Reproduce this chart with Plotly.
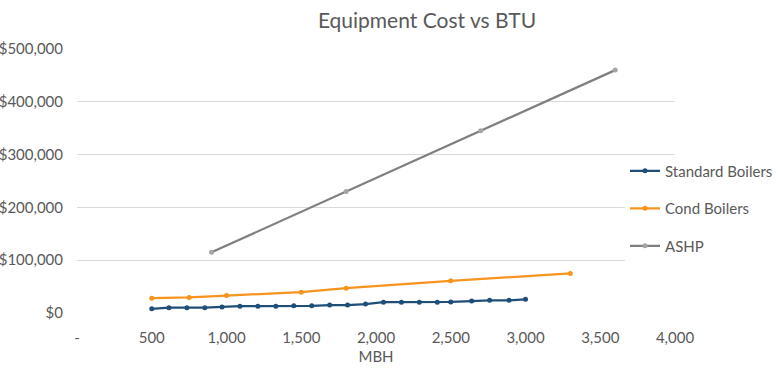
import plotly.graph_objects as go

# Data
std_mbh = [500, 615, 735, 855, 970, 1090, 1210, 1330, 1450, 1570, 1690, 1810, 1930, 2050, 2170, 2290, 2410, 2500, 2640, 2760, 2890, 3000]
std_cost = [8000, 10000, 10000, 10000, 11500, 13000, 13000, 13000, 13500, 13500, 15000, 15000, 17000, 20500, 20500, 20500, 20500, 21000, 22500, 24000, 24000, 26000]

cond_mbh = [500, 750, 1000, 1500, 1800, 2500, 3300]
cond_cost = [28000, 29500, 33000, 39500, 47000, 61000, 75000]

ashp_mbh = [900, 1800, 2700, 3600]
ashp_cost = [115000, 230000, 345000, 460000]

x_ticks = [0, 500, 1000, 1500, 2000, 2500, 3000, 3500, 4000]
x_tick_text = ["-", "500", "1,000", "1,500", "2,000", "2,500", "3,000", "3,500", "4,000"]
y_ticks = [0, 100000, 200000, 300000, 400000, 500000]
y_tick_text = ["$0", "$100,000", "$200,000", "$300,000", "$400,000", "$500,000"]

FONT = "Lato"
TXT = "#595959"

W, H = 780, 377
L, T, R, B = 77, 49, 105, 64
pw = W - L - R
ph = H - T - B

fig = go.Figure()
fig.add_trace(go.Scatter(x=std_mbh, y=std_cost, name="Standard Boilers", mode="lines+markers",
                         legendgroup="a",
                         line=dict(color="#1F4E79", width=2.25),
                         marker=dict(color="#1F4E79", size=5)))
fig.add_trace(go.Scatter(x=cond_mbh, y=cond_cost, name="Cond Boilers", mode="lines+markers",
                         legendgroup="b",
                         line=dict(color="#F7941D", width=2.25),
                         marker=dict(color="#F7941D", size=5)))
fig.add_trace(go.Scatter(x=ashp_mbh, y=ashp_cost, name="ASHP", mode="lines+markers",
                         legendgroup="c",
                         line=dict(color="#7F7F7F", width=2.25),
                         marker=dict(color="#A5A5A5", size=5)))

fig.update_layout(
    width=W, height=H,
    margin=dict(l=L, r=R, t=T, b=B, autoexpand=False),
    paper_bgcolor="white", plot_bgcolor="white",
    font=dict(family=FONT, color=TXT, size=14),
    title=dict(text="Equipment Cost vs BTU", x=427 / W, xanchor="center",
               y=1 - 21 / H, yanchor="middle",
               font=dict(family=FONT, size=21, color=TXT)),
    showlegend=True,
    legend=dict(x=(625 - L) / pw, xanchor="left", y=(313 - 208.5) / ph, yanchor="middle",
                bgcolor="white", font=dict(size=15, color=TXT),
                tracegroupgap=15, itemwidth=30),
    xaxis=dict(range=[0, 4000], tickvals=x_ticks, ticktext=x_tick_text,
               showgrid=False, zeroline=False, showline=False, automargin=False,
               ticks="outside", ticklen=11, tickcolor="rgba(0,0,0,0)",
               tickfont=dict(size=15, color=TXT),
               title=dict(text="MBH", font=dict(size=15, color=TXT), standoff=6)),
    yaxis=dict(range=[0, 500000], tickvals=y_ticks, ticktext=y_tick_text,
               showgrid=True, gridcolor="#D9D9D9", gridwidth=1,
               zeroline=False, showline=False, automargin=False,
               ticks="outside", ticklen=10, tickcolor="rgba(0,0,0,0)",
               tickfont=dict(size=15, color=TXT)),
)

# remove the browser's default 8px body margin so the figure sits flush in the window
fig.write_html("out.html", config={"displayModeBar": False},
               post_script="document.body.style.margin='0px';")
